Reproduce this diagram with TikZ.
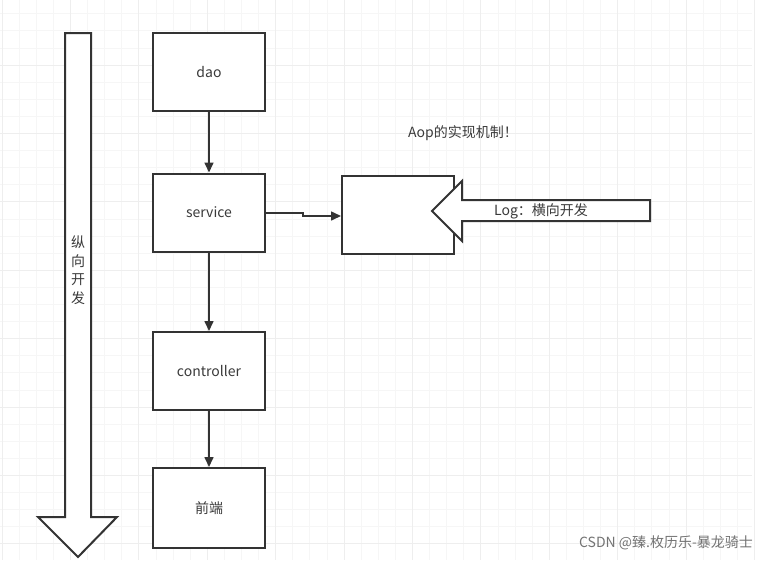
\documentclass[tikz,border=0pt]{standalone}
\usepackage{fontspec}
\setmainfont{Noto Sans CJK SC}
\usetikzlibrary{arrows.meta}
\definecolor{ln}{HTML}{333333}
\definecolor{tx}{HTML}{3A3A3A}
\definecolor{gmin}{HTML}{F6F6F6}
\definecolor{gmaj}{HTML}{EEEEEE}
\begin{document}
\begin{tikzpicture}[x=1pt,y=-1pt,
  box/.style={draw=ln,line width=2pt,fill=white,minimum width=112pt,minimum height=78pt,inner sep=0pt,font=\fontsize{14pt}{16pt}\selectfont,text=tx},
  conn/.style={draw=ln,line width=1.6pt,-{Triangle[length=10pt,width=9pt]}},
  lbl/.style={font=\fontsize{14pt}{16pt}\selectfont,text=tx,inner sep=0pt}]
\useasboundingbox (0,0) rectangle (775,560);
\fill[white] (0,0) rectangle (775,560);
% grid
\foreach \i in {0,...,43} {
  \pgfmathsetmacro\xx{2+17.1*\i}
  \draw[gmin,line width=0.8pt] (\xx,0) -- (\xx,560);
}
\foreach \i in {0,...,33} {
  \pgfmathsetmacro\yy{-3.4+17.1*\i}
  \draw[gmin,line width=0.8pt] (0,\yy) -- (752,\yy);
}
\foreach \i in {0,...,11} {
  \pgfmathsetmacro\xx{2+68.4*\i}
  \draw[gmaj,line width=1pt] (\xx,0) -- (\xx,560);
}
\foreach \i in {1,...,8} {
  \pgfmathsetmacro\yy{-3.4+68.4*\i}
  \draw[gmaj,line width=1pt] (0,\yy) -- (752,\yy);
}
% vertical big arrow
\draw[ln,line width=2pt,fill=white,line join=miter]
  (65,33) -- (91,33) -- (91,517) -- (117,517) -- (78,557) -- (38,517) -- (65,517) -- cycle;
\node[lbl,align=center,font=\fontsize{14pt}{18.5pt}\selectfont] (vert) at (78,270) {纵\\向\\开\\发};
% boxes
\node[box] (dao) at (209,72) {dao};
\node[box] (service) at (209,212.5) {service};
\node[box] (controller) at (209,371) {controller};
\node[box,minimum height=80pt] (front) at (209,508) {前端};
\node[box] (aop) at (398,215) {};
% connectors
\draw[conn] (dao) -- (service);
\draw[conn] (service) -- (controller);
\draw[conn] (controller) -- (front);
\coordinate (j1) at (303,213);
\coordinate (j2) at (303,216);
\draw[conn] (service.east |- j1) -- (j1) -- (j2) -- (aop.west |- j2);
% Log arrow
\draw[ln,line width=2pt,fill=white,line join=miter]
  (650,200) -- (462,200) -- (462,181) -- (432,211) -- (462,241) -- (462,221) -- (650,221) -- cycle;
\node[lbl] (log) at (541,211) {Log：横向开发};
\node[lbl] (aoptxt) at (463,133) {Aop的实现机制！};
\node[lbl,text=gray!90!black,font=\fontsize{14pt}{16pt}\selectfont] (csdn) at (666,543) {CSDN @臻.枚历乐-暴龙骑士};
\end{tikzpicture}
\end{document}
